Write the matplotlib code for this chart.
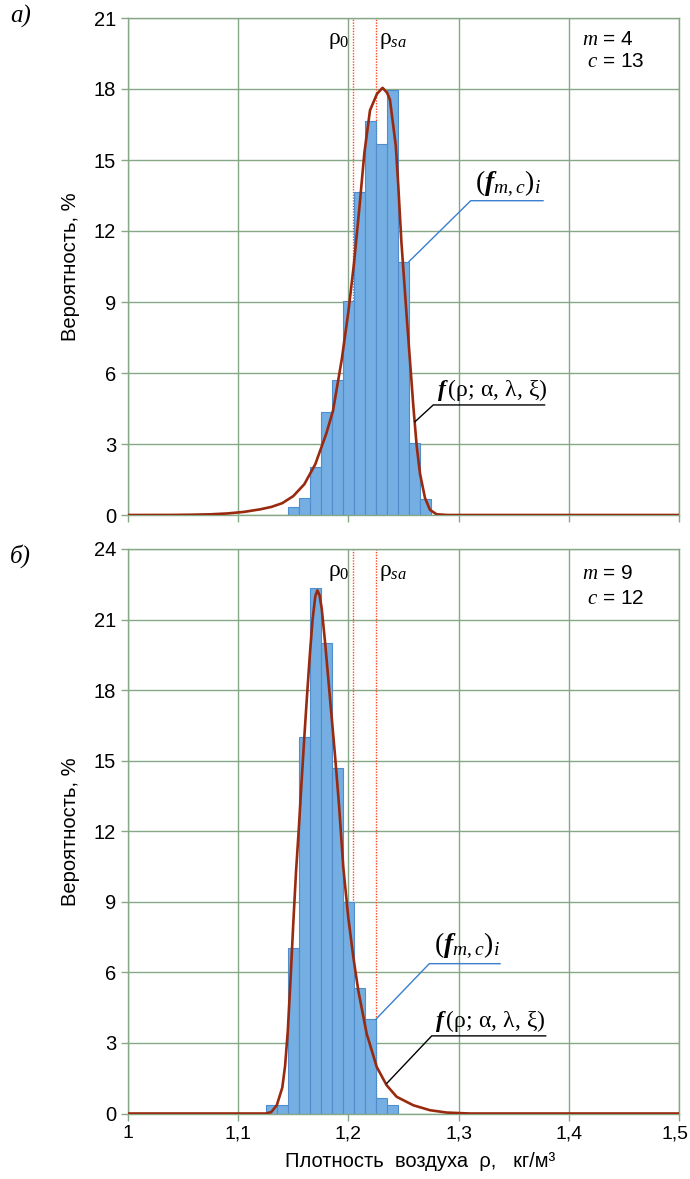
import matplotlib
matplotlib.use("Agg")
import matplotlib.pyplot as plt
import matplotlib.transforms as mtransforms

plt.rcParams['font.family'] = ['Liberation Sans', 'DejaVu Sans']
plt.rcParams['mathtext.fontset'] = 'custom'
plt.rcParams['mathtext.rm'] = 'Liberation Serif'
plt.rcParams['mathtext.it'] = 'Liberation Serif:italic'
plt.rcParams['mathtext.bf'] = 'Liberation Serif:italic:bold'

# histogram a) : bin centres and probabilities, %
bins_a = [1.15, 1.16, 1.17, 1.18, 1.19, 1.20, 1.21, 1.22, 1.23, 1.24, 1.25, 1.26, 1.27]
prob_a = [0.35, 0.71, 2.04, 4.37, 5.69, 9.03, 13.65, 16.66, 15.69, 17.97, 10.71, 3.03, 0.69]

# histogram b)
bins_b = [1.13, 1.14, 1.15, 1.16, 1.17, 1.18, 1.19, 1.20, 1.21, 1.22, 1.23, 1.24]
prob_b = [0.35, 0.35, 7.02, 16.0, 22.35, 20.01, 14.68, 8.99, 5.34, 4.01, 0.68, 0.35]

# fitted density curves
curve_a_x = [1.00, 1.04, 1.06, 1.075, 1.09, 1.105, 1.12, 1.13, 1.14, 1.15, 1.16,
             1.17, 1.18, 1.186, 1.194, 1.20, 1.205, 1.21, 1.2145, 1.2196, 1.226,
             1.231, 1.235, 1.2377, 1.243, 1.2453, 1.248, 1.2529, 1.2574, 1.259, 1.262,
             1.265, 1.2695, 1.274, 1.280, 1.29, 1.50]
curve_a_y = [0.0, 0.003, 0.014, 0.03, 0.065, 0.13, 0.24, 0.34, 0.50, 0.80, 1.30,
             2.15, 3.45, 4.40, 6.58, 8.6, 10.6, 13.0, 15.3, 17.1, 17.8,
             18.05, 17.85, 17.55, 15.6, 13.89, 11.6, 8.38, 5.56, 4.55, 2.9,
             1.74, 0.72, 0.22, 0.03, 0.0, 0.0]

curve_b_x = [1.00, 1.125, 1.13, 1.135, 1.14, 1.1425, 1.145, 1.1475, 1.15, 1.1525,
             1.155, 1.1575, 1.16, 1.1625, 1.165, 1.1675, 1.17, 1.1718,
             1.1738, 1.1758, 1.1788, 1.1833, 1.1879, 1.1915, 1.1954, 1.1999, 1.2045,
             1.209, 1.2166, 1.2257, 1.2347, 1.2438, 1.2589, 1.274, 1.2892, 1.31, 1.50]
curve_b_y = [0.0, 0.0, 0.06, 0.35, 1.1, 2.0, 3.5, 5.7, 8.1, 10.3,
             12.1, 14.1, 16.0, 17.8, 19.5, 21.0, 22.0, 22.24,
             22.04, 21.46, 20.05, 17.65, 15.2, 13.1, 10.45, 8.33, 6.64,
             5.22, 3.39, 1.98, 1.2, 0.71, 0.35, 0.14, 0.04, 0.0, 0.0]

rho_0 = 1.204
rho_sa = 1.225
x_ticks = [1.0, 1.1, 1.2, 1.3, 1.4, 1.5]
x_labels = ['1', '1,1', '1,2', '1,3', '1,4', '1,5']

grid_c = '#86a886'
bar_c = '#74aee2'
edge_c = '#4f8dcc'
curve_c = '#992a10'
ref_c = '#ff4a22'

fig = plt.figure(figsize=(6.9, 11.79), dpi=100)
ax1 = fig.add_axes([128 / 690, 1 - 515 / 1179, 551 / 690, 497 / 1179])
ax2 = fig.add_axes([128 / 690, 1 - 1113.5 / 1179, 551 / 690, 564.5 / 1179])


def draw_panel(ax, bins, prob, cx, cy, ymax, m, c, ann):
    ax.set_xlim(1.0, 1.5)
    ax.set_ylim(0, ymax)
    ax.set_xticks(x_ticks)
    ax.set_yticks(range(0, ymax + 1, 3))
    ax.grid(True, color=grid_c, lw=1.0)
    ax.set_axisbelow(True)
    for s in ax.spines.values():
        s.set_color(grid_c)
        s.set_linewidth(1.0)
    ax.tick_params(colors=grid_c, labelcolor='black', labelsize=14.5,
                   length=5, width=1.0, direction='out')
    ax.tick_params(axis='x', labelsize=14)

    for r in (rho_0, rho_sa):
        ax.axvline(r, color=ref_c, lw=1.0, ls=(0, (1, 1)), zorder=1)

    ax.bar(bins, prob, width=0.01, color=bar_c, edgecolor=edge_c, lw=0.8, zorder=2)
    ax.plot(cx, cy, color=curve_c, lw=1.9, zorder=3)

    ax.text(rho_0 - 0.0025, ymax * 0.978, r'$\mathrm{ρ}_0$', ha='right', va='top',
            fontsize=17)
    ax.text(rho_sa + 0.0025, ymax * 0.978, r'$\mathrm{ρ}_{sa}$', ha='left', va='top',
            fontsize=17)

    ax.text(0.824, 0.956, r'$m$' + ' = %d' % m, transform=ax.transAxes,
            ha='left', va='center', fontsize=15)
    ax.text(0.833, 0.912, r'$c$' + ' = %d' % c, transform=ax.transAxes,
            ha='left', va='center', fontsize=15)

    # leader lines with labels
    (u1x0, u1x1, u1y, p1x, p1y), (u2x0, u2x1, u2y, p2x, p2y) = ann
    ax.plot([p1x, u1x0, u1x1], [p1y, u1y, u1y], color='#3a7fd0', lw=1.0, zorder=4)
    ax.plot([p2x, u2x0, u2x1], [p2y, u2y, u2y], color='black', lw=1.0, zorder=4)
    ax.text(u1x0 + 0.004, u1y + ymax * 0.004, r'$(\mathbf{f}_{m,c})_i$',
            ha='left', va='bottom', fontsize=20)
    ax.text(u2x0 + 0.003, u2y + ymax * 0.004,
            r'$\mathbf{f}\,(\mathrm{ρ};\,\mathrm{α},\,\mathrm{λ},\,\mathrm{ξ})$',
            ha='left', va='bottom', fontsize=17)


ann_a = ((1.311, 1.3766, 13.28, bins_a[10] + 0.005, prob_a[10]),
         (1.277, 1.378, 4.65, 1.2604, 3.94))
ann_b = ((1.2734, 1.3376, 6.37, bins_b[9] + 0.005, prob_b[9]),
         (1.2756, 1.379, 3.3, 1.2348, 1.28))

draw_panel(ax1, bins_a, prob_a, curve_a_x, curve_a_y, 21, 4, 13, ann_a)
draw_panel(ax2, bins_b, prob_b, curve_b_x, curve_b_y, 24, 9, 12, ann_b)

ax1.set_xticklabels([])
ax2.set_xticklabels(x_labels)
# last label sits against the right edge of the figure
last = ax2.get_xticklabels()[-1]
last.set_transform(last.get_transform() +
                   mtransforms.ScaledTranslation(-4 / 100, 0, fig.dpi_scale_trans))

ax1.set_ylabel('Вероятность, %', fontsize=14.5, labelpad=10)
ax2.set_ylabel('Вероятность, %', fontsize=14.5, labelpad=10)
ax2.set_xlabel('Плотность  воздуха  ρ,   кг/м³', fontsize=14.5)
ax2.xaxis.set_label_coords(0.53, -0.068)

fig.text(10 / 690, 1 - 16 / 1179, 'а)', family='Liberation Serif', style='italic',
         fontsize=18, va='center', ha='left')
fig.text(10 / 690, 1 - 556 / 1179, 'б)', family='Liberation Serif', style='italic',
         fontsize=18, va='center', ha='left')

fig.savefig('out.png', dpi=100)
